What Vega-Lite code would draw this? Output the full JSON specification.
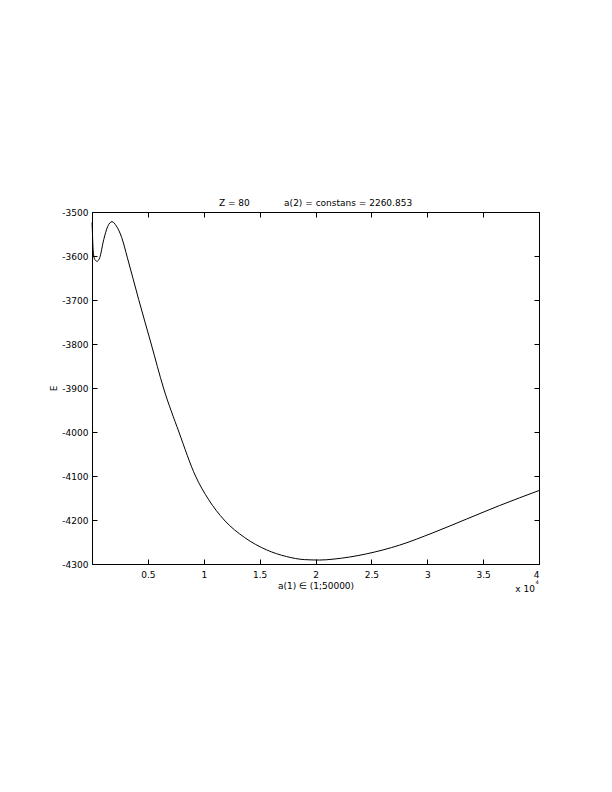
{
  "$schema": "https://vega.github.io/schema/vega-lite/v6.json",
  "width": 447,
  "height": 352,
  "autosize": "none",
  "padding": {"left": 92, "top": 212, "right": 73, "bottom": 228},
  "background": "white",
  "config": {
    "view": {"stroke": "black", "strokeWidth": 1},
    "axis": {
      "grid": false,
      "domainColor": "black",
      "domainWidth": 1,
      "tickColor": "black",
      "tickSize": -5,
      "labelColor": "black",
      "titleColor": "black",
      "labelFont": "DejaVu Sans",
      "titleFont": "DejaVu Sans",
      "labelFontSize": 9,
      "titleFontSize": 9,
      "titleFontWeight": "normal"
    }
  },
  "title": {
    "text": "Z = 80\u00a0\u00a0\u00a0\u00a0\u00a0\u00a0\u00a0\u00a0\u00a0\u00a0\u00a0\u00a0a(2) = constans = 2260.853",
    "font": "DejaVu Sans",
    "fontSize": 9,
    "fontWeight": "normal",
    "color": "black",
    "offset": 0
  },
  "data": {
    "values": [
      {"a": 1, "E": -3524},
      {"a": 30, "E": -3540},
      {"a": 70, "E": -3570},
      {"a": 130, "E": -3595},
      {"a": 250, "E": -3608},
      {"a": 447, "E": -3612},
      {"a": 689, "E": -3604},
      {"a": 1047, "E": -3563},
      {"a": 1405, "E": -3533},
      {"a": 1790, "E": -3522},
      {"a": 2184, "E": -3532},
      {"a": 2658, "E": -3558},
      {"a": 3168, "E": -3604},
      {"a": 4179, "E": -3699},
      {"a": 5298, "E": -3800},
      {"a": 6399, "E": -3900},
      {"a": 7777, "E": -4000},
      {"a": 9262, "E": -4100},
      {"a": 10444, "E": -4154},
      {"a": 11831, "E": -4200},
      {"a": 13665, "E": -4240},
      {"a": 15634, "E": -4268},
      {"a": 17397, "E": -4283},
      {"a": 19000, "E": -4290},
      {"a": 20376, "E": -4291},
      {"a": 21567, "E": -4289},
      {"a": 24556, "E": -4277},
      {"a": 27536, "E": -4257},
      {"a": 30516, "E": -4229},
      {"a": 33505, "E": -4198},
      {"a": 36485, "E": -4167},
      {"a": 40000, "E": -4133}
    ]
  },
  "layer": [
    {
      "mark": {"type": "line", "color": "black", "strokeWidth": 1, "interpolate": "monotone"},
      "encoding": {
        "x": {
          "field": "a", "type": "quantitative",
          "scale": {"domain": [0, 40000], "nice": false, "zero": false},
          "axis": {
            "orient": "bottom",
            "values": [5000, 10000, 15000, 20000, 25000, 30000, 35000, 40000],
            "labelExpr": "'' + datum.value / 10000",
            "labelPadding": 11,
            "title": "a(1) \u2208  (1;50000)",
            "titlePadding": 2
          }
        },
        "y": {
          "field": "E", "type": "quantitative",
          "scale": {"domain": [-4300, -3500], "nice": false, "zero": false},
          "axis": {
            "orient": "left",
            "values": [-4300, -4200, -4100, -4000, -3900, -3800, -3700, -3600, -3500],
            "labelExpr": "'' + datum.value",
            "labelPadding": 9,
            "title": "E",
            "titlePadding": 3
          }
        }
      }
    },
    {
      "mark": {"type": "line", "opacity": 0},
      "encoding": {
        "x": {
          "field": "a", "type": "quantitative",
          "axis": {
            "orient": "top",
            "values": [5000, 10000, 15000, 20000, 25000, 30000, 35000, 40000],
            "labels": false,
            "title": null
          }
        },
        "y": {
          "field": "E", "type": "quantitative",
          "axis": {
            "orient": "right",
            "values": [-4300, -4200, -4100, -4000, -3900, -3800, -3700, -3600, -3500],
            "labels": false,
            "title": null
          }
        }
      }
    },
    {
      "data": {"values": [{"a": 40000, "E": -4300, "t": "x 10"}]},
      "mark": {"type": "text", "align": "right", "baseline": "middle", "dx": -4, "dy": 25, "font": "DejaVu Sans", "fontSize": 9, "color": "black"},
      "encoding": {
        "x": {"field": "a", "type": "quantitative", "axis": null},
        "y": {"field": "E", "type": "quantitative", "axis": null},
        "text": {"field": "t"}
      }
    },
    {
      "data": {"values": [{"a": 40000, "E": -4300, "t": "4"}]},
      "mark": {"type": "text", "align": "left", "baseline": "middle", "dx": -3.5, "dy": 18, "font": "DejaVu Sans", "fontSize": 5, "color": "black"},
      "encoding": {
        "x": {"field": "a", "type": "quantitative", "axis": null},
        "y": {"field": "E", "type": "quantitative", "axis": null},
        "text": {"field": "t"}
      }
    }
  ],
  "resolve": {"axis": {"x": "independent", "y": "independent"}}
}
